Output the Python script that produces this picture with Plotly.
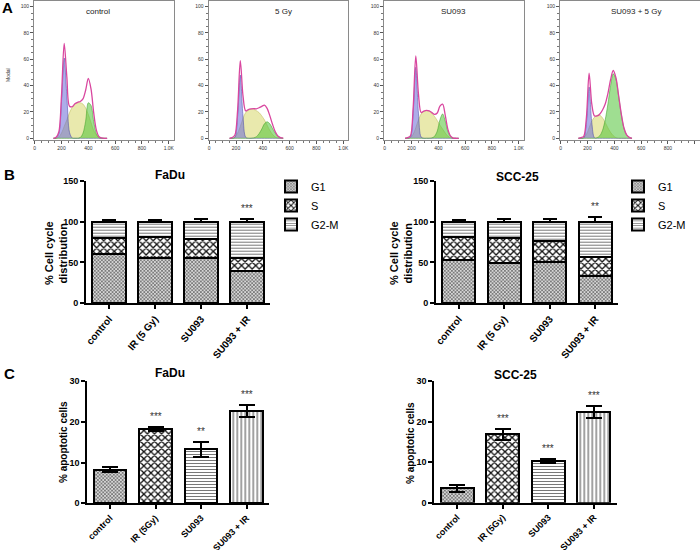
import plotly.graph_objects as go

W, H = 700, 550
FONT = "Liberation Sans"

# ---------------- Panel A: DNA content histograms ----------------
hist_titles = ["control", "5 Gy", "SU093", "SU093 + 5 Gy"]
hist_ticks = [0, 200, 400, 600, 800, 1000]
hist_ticktext = ["0", "200", "400", "600", "800", "1.0K"]

ctrl_x = [140, 160, 180, 200, 220, 240, 260, 280, 300, 320, 340, 360, 380, 400, 420, 440, 460, 480, 500, 520, 540]
ctrl_g1 = [0, 0.1, 3.3, 28, 61, 32, 4.4, 0.2, 0, 0, 0, 0, 0, 0, 0, 0, 0, 0, 0, 0, 0]
ctrl_s = [0, 0, 1, 4, 9, 14, 19.5, 23.5, 26, 27, 27, 26, 23, 18, 12, 6, 2.5, 0.5, 0, 0, 0]
ctrl_g2 = [0, 0, 0, 0, 0, 0, 0, 0, 0, 0, 0.6, 3.8, 13, 27, 25, 13, 3.5, 0.5, 0, 0, 0]
ctrl_tot = [0, 0.8, 4.8, 32.5, 72, 46.5, 24.3, 24, 26.2, 27.3, 28, 30, 36.5, 45.5, 37.5, 19.5, 6.2, 1.2, 0.3, 0, 0]

gy5_x = [152, 172, 192, 212, 232, 252, 272, 292, 312, 332, 352, 372, 392, 412, 432, 452, 472, 492, 512, 532, 552]
gy5_g1 = [0, 0, 0.8, 17, 48, 17, 0.8, 0, 0, 0, 0, 0, 0, 0, 0, 0, 0, 0, 0, 0, 0]
gy5_s = [0, 0, 1, 4, 9, 15, 19.5, 21.5, 22, 22, 21, 19.5, 17, 14, 10, 6, 3, 1, 0.2, 0, 0]
gy5_g2 = [0, 0, 0, 0, 0, 0, 0, 0, 0, 0.3, 1.2, 3.5, 7, 11, 12.5, 11, 7.5, 4, 1.5, 0.4, 0]
gy5_tot = [0, 0.6, 2.5, 21.5, 59, 32.5, 20.8, 21.8, 22.3, 22.5, 22.4, 23.2, 24.2, 25.2, 22.7, 17.2, 10.7, 5.1, 1.8, 0.5, 0.1]

su_x = [152, 172, 192, 212, 232, 252, 272, 292, 312, 332, 352, 372, 392, 412, 432, 452, 472, 492, 512, 532, 552]
su_g1 = [0, 0, 0.9, 19, 54, 19, 0.9, 0, 0, 0, 0, 0, 0, 0, 0, 0, 0, 0, 0, 0, 0]
su_s = [0, 0, 0.5, 3, 8, 14, 18.5, 20.5, 21, 20.5, 19, 16.5, 13.5, 10, 7, 4, 1.5, 0.3, 0, 0, 0]
su_g2 = [0, 0, 0, 0, 0, 0, 0, 0, 0, 0, 0.3, 1.5, 5.5, 14, 18.5, 13, 5, 1.2, 0, 0, 0]
su_tot = [0, 0.5, 1.8, 22.5, 62.5, 33.5, 19.6, 20.7, 21.2, 20.8, 19.5, 18.2, 19.2, 24.5, 26, 17.2, 6.6, 1.6, 0.2, 0, 0]

suir_x = [132, 152, 172, 192, 212, 232, 252, 272, 292, 312, 332, 352, 372, 392, 412, 432, 452, 472, 492, 512, 532]
suir_g1 = [0, 0, 0.3, 12, 39, 12, 0.3, 0, 0, 0, 0, 0, 0, 0, 0, 0, 0, 0, 0, 0, 0]
suir_s = [0, 0, 0.5, 3, 8, 13, 16, 17.5, 17.5, 15.5, 12, 8, 4.5, 2, 0.5, 0, 0, 0, 0, 0, 0]
suir_g2 = [0, 0, 0, 0, 0, 0, 0, 0.5, 2, 6, 14, 26, 40, 49, 45, 32, 18, 7.5, 2.5, 0.6, 0]
suir_tot = [0, 0.5, 1.5, 16, 49.5, 26, 17, 17, 18.5, 21.5, 26, 34, 44.5, 51.5, 46, 32.5, 18.5, 7.8, 2.6, 0.7, 0]

# ---------------- Panel B: cell cycle distribution ----------------
cats_b = ["control", "IR (5 Gy)", "SU093", "SU093 + IR"]
phases = ["G1", "S", "G2-M"]
fadu_g1 = [60, 56, 56, 39.5]
fadu_s = [19.5, 25, 22.7, 15.5]
fadu_g2m = [20.5, 19, 21.3, 45]
fadu_cc_err = [2.5, 1.5, 3, 2.7]
fadu_cc_sig = ["", "", "", "***"]
scc_g1 = [53, 49, 51, 33.4]
scc_s = [27.7, 31.3, 25, 23.6]
scc_g2m = [19.3, 19.7, 24, 43]
scc_cc_err = [2, 2.7, 2.7, 6]
scc_cc_sig = ["", "", "", "**"]

# ---------------- Panel C: apoptosis ----------------
cats_c = ["control", "IR (5Gy)", "SU093", "SU093 + IR"]
fadu_apo = [8.2, 18.15, 13.3, 22.65]
fadu_apo_err = [0.6, 0.5, 1.85, 1.45]
fadu_apo_sig = ["", "***", "**", "***"]
scc_apo = [3.6, 16.9, 10.2, 22.4]
scc_apo_err = [0.85, 1.35, 0.5, 1.55]
scc_apo_sig = ["", "***", "***", "***"]


def xd(a, b):
    return [a / W, b / W]


def yd(top, bottom):
    return [1 - bottom / H, 1 - top / H]


fig = go.Figure()
layout = dict(
    template="none",
    width=W, height=H, margin=dict(l=0, r=0, t=0, b=0, autoexpand=False),
    paper_bgcolor="white", plot_bgcolor="white",
    font=dict(family=FONT, color="black"),
    barmode="stack", showlegend=True,
)
annotations = []


def ptext(x, y, text, size, bold=True, angle=0, color="black"):
    annotations.append(dict(x=x / W, y=1 - y / H, xref="paper", yref="paper", text=text,
                            textangle=angle, showarrow=False, xanchor="center", yanchor="middle",
                            font=dict(size=size, family=FONT, color=color, weight="bold" if bold else "normal")))


# ---- histograms
hist_sets = [
    (ctrl_x, ctrl_g1, ctrl_s, ctrl_g2, ctrl_tot),
    (gy5_x, gy5_g1, gy5_s, gy5_g2, gy5_tot),
    (su_x, su_g1, su_s, su_g2, su_tot),
    (suir_x, suir_g1, suir_s, suir_g2, suir_tot),
]
hist_left = [34, 208.5, 384, 560]
hist_title_x = [98, 283, 453, 636]
hist_w = 139.5
for i, (hx, g1, s, g2, tot) in enumerate(hist_sets):
    n = i + 1
    xa, ya = f"x{n}", f"y{n}"
    sfx = "" if n == 1 else str(n)
    comps = [
        (s, "rgba(215,215,105,0.55)", "rgba(190,190,90,0.9)"),
        (g1, "rgba(105,105,215,0.55)", "rgba(70,70,170,0.9)"),
        (g2, "rgba(80,195,55,0.55)", "rgba(60,160,40,0.9)"),
    ]
    for yy, fc, lc in comps:
        fig.add_trace(go.Scatter(x=hx, y=yy, mode="lines", fill="tozeroy",
                                 fillcolor=fc, line=dict(color=lc, width=0.6, shape="spline", smoothing=0.9),
                                 xaxis=xa, yaxis=ya, showlegend=False, hoverinfo="skip"))
    fig.add_trace(go.Scatter(x=hx, y=tot, mode="lines",
                             line=dict(color="#d9469f", width=1.3, shape="spline", smoothing=0.9),
                             xaxis=xa, yaxis=ya, showlegend=False, hoverinfo="skip"))
    L = hist_left[i]
    layout["xaxis" + sfx] = dict(
        domain=xd(L, L + hist_w), range=[-5, 1035], anchor=ya, automargin=False,
        showline=True, mirror=True, linecolor="#8a8a8a", linewidth=1,
        ticks="outside", ticklen=3, tickcolor="#555", tickwidth=1,
        tickvals=hist_ticks, ticktext=hist_ticktext,
        tickfont=dict(size=5, color="#333"), showgrid=False, zeroline=False,
        minor=dict(ticks="outside", ticklen=2, dtick=50, tick0=0, tickcolor="#777", showgrid=False),
    )
    layout["yaxis" + sfx] = dict(
        domain=yd(1, 140), range=[-1.3, 104.3], anchor=xa, automargin=False,
        showline=True, mirror=True, linecolor="#8a8a8a", linewidth=1,
        ticks="outside", ticklen=3, tickcolor="#555", tickwidth=1,
        tickvals=[0, 20, 40, 60, 80, 100],
        tickfont=dict(size=5, color="#333"), showgrid=False, zeroline=False,
        minor=dict(ticks="outside", ticklen=2, dtick=5, tick0=0, tickcolor="#777", showgrid=False),
    )
    ptext(hist_title_x[i], 11.7, hist_titles[i], 8, bold=False, color="#222")

ptext(8, 75, "Modal", 5, bold=False, angle=-90, color="#333")

# ---- patterns
pat_g1 = dict(shape="x", size=2.5, solidity=0.45, fgcolor="#5a5a5a", bgcolor="#d6d6d6", fillmode="replace")
pat_s = dict(shape="x", size=5, solidity=0.45, fgcolor="#111", bgcolor="white", fillmode="replace")
pat_g2 = dict(shape="-", size=3, solidity=0.3, fgcolor="#6a6a6a", bgcolor="white", fillmode="replace")

bar_line = dict(color="black", width=2)


def bar_axes(n, left, right, top, bottom, rng, tickvals, angle, tsize):
    sfx = str(n)
    layout["xaxis" + sfx] = dict(
        domain=xd(left, right), anchor="y" + sfx, range=[-0.5, 3.5], type="category", automargin=False,
        showline=True, linecolor="black", linewidth=2, ticks="outside", ticklen=4,
        tickwidth=2, tickcolor="black", tickangle=angle,
        tickfont=dict(size=tsize, family=FONT, weight="bold"), showgrid=False, zeroline=False,
    )
    layout["yaxis" + sfx] = dict(
        domain=yd(top, bottom), anchor="x" + sfx, range=rng, automargin=False,
        showline=True, linecolor="black", linewidth=2, ticks="outside", ticklen=4,
        tickwidth=2, tickcolor="black", tickvals=tickvals,
        tickfont=dict(size=9, family=FONT, weight="bold"), showgrid=False, zeroline=False,
    )


# ---- Panel B
b_sets = [
    (5, "legend", (fadu_g1, fadu_s, fadu_g2m), fadu_cc_err, fadu_cc_sig),
    (6, "legend2", (scc_g1, scc_s, scc_g2m), scc_cc_err, scc_cc_sig),
]
for n, leg, vals, err, sig in b_sets:
    pats = [pat_g1, pat_s, pat_g2]
    for k, (name, v, p) in enumerate(zip(phases, vals, pats)):
        kw = {}
        if k == 2:
            kw["error_y"] = dict(type="data", array=err, arrayminus=[0] * len(err), symmetric=False,
                                 color="black", thickness=2, width=7)
        fig.add_trace(go.Bar(x=cats_b, y=v, name=name, width=0.72,
                             marker=dict(color="white", pattern=p, line=bar_line),
                             xaxis=f"x{n}", yaxis=f"y{n}", legend=leg, hoverinfo="skip", **kw))
    totals = [a + b + c for a, b, c in zip(*vals)]
    for c, t, e, sg in zip(cats_b, totals, err, sig):
        if sg:
            annotations.append(dict(x=c, y=t + e, xref=f"x{n}", yref=f"y{n}", text=sg, showarrow=False,
                                    xanchor="center", yanchor="bottom", yshift=3,
                                    font=dict(size=10, color="#333333")))

bar_axes(5, 86, 270, 180.7, 303.3, [0, 150], [0, 50, 100, 150], -50, 10)
bar_axes(6, 436, 618, 180.7, 303.3, [0, 150], [0, 50, 100, 150], -50, 10)

layout["legend"] = dict(x=271 / W, y=1 - 172 / H, xanchor="left", yanchor="top", traceorder="normal",
                        font=dict(size=11, family=FONT), bgcolor="rgba(0,0,0,0)", itemwidth=30, tracegroupgap=0)
layout["legend2"] = dict(x=618 / W, y=1 - 172 / H, xanchor="left", yanchor="top", traceorder="normal",
                         font=dict(size=11, family=FONT), bgcolor="rgba(0,0,0,0)", itemwidth=30, tracegroupgap=0)

# ---- Panel C
c_pats = dict(
    shape=["x", "x", "-", "|"], size=[2.5, 5, 3, 4], solidity=[0.45, 0.45, 0.3, 0.25],
    fgcolor=["#5a5a5a", "#111", "#6a6a6a", "#444"], bgcolor=["#d6d6d6", "white", "white", "white"],
    fillmode="replace",
)
c_sets = [(7, fadu_apo, fadu_apo_err, fadu_apo_sig), (8, scc_apo, scc_apo_err, scc_apo_sig)]
for n, v, err, sig in c_sets:
    fig.add_trace(go.Bar(x=cats_c, y=v, width=0.72, showlegend=False,
                         marker=dict(color="white", pattern=c_pats, line=bar_line),
                         error_y=dict(type="data", array=err, color="black", thickness=2, width=8),
                         xaxis=f"x{n}", yaxis=f"y{n}", hoverinfo="skip"))
    for c, t, e, sg in zip(cats_c, v, err, sig):
        if sg:
            annotations.append(dict(x=c, y=t + e, xref=f"x{n}", yref=f"y{n}", text=sg, showarrow=False,
                                    xanchor="center", yanchor="bottom", yshift=3,
                                    font=dict(size=10, color="#333333")))

bar_axes(7, 87.3, 269.3, 381, 503.3, [0, 30], [0, 10, 20, 30], -45, 9)
bar_axes(8, 434.3, 616.7, 381, 502.7, [0, 30], [0, 10, 20, 30], -45, 9)

# ---- titles and labels
ptext(170, 175, "FaDu", 12)
ptext(517, 177, "SCC-25", 12)
ptext(170, 373, "FaDu", 12)
ptext(515, 375, "SCC-25", 12)
ptext(56, 253, "% Cell cycle<br>distribution", 11, angle=-90)
ptext(401, 253, "% Cell cycle<br>distribution", 11, angle=-90)
ptext(63, 442, "% apoptotic cells", 10, angle=-90)
ptext(410, 443, "% apoptotic cells", 10, angle=-90)
ptext(7, 8, "A", 15)
ptext(9, 175, "B", 15)
ptext(9, 373, "C", 15)

layout["annotations"] = annotations
fig.update_layout(**layout)
fig.write_html("out.html", config={"displayModeBar": False},
               post_script="document.body.style.margin='0px';document.body.style.overflow='hidden';")
